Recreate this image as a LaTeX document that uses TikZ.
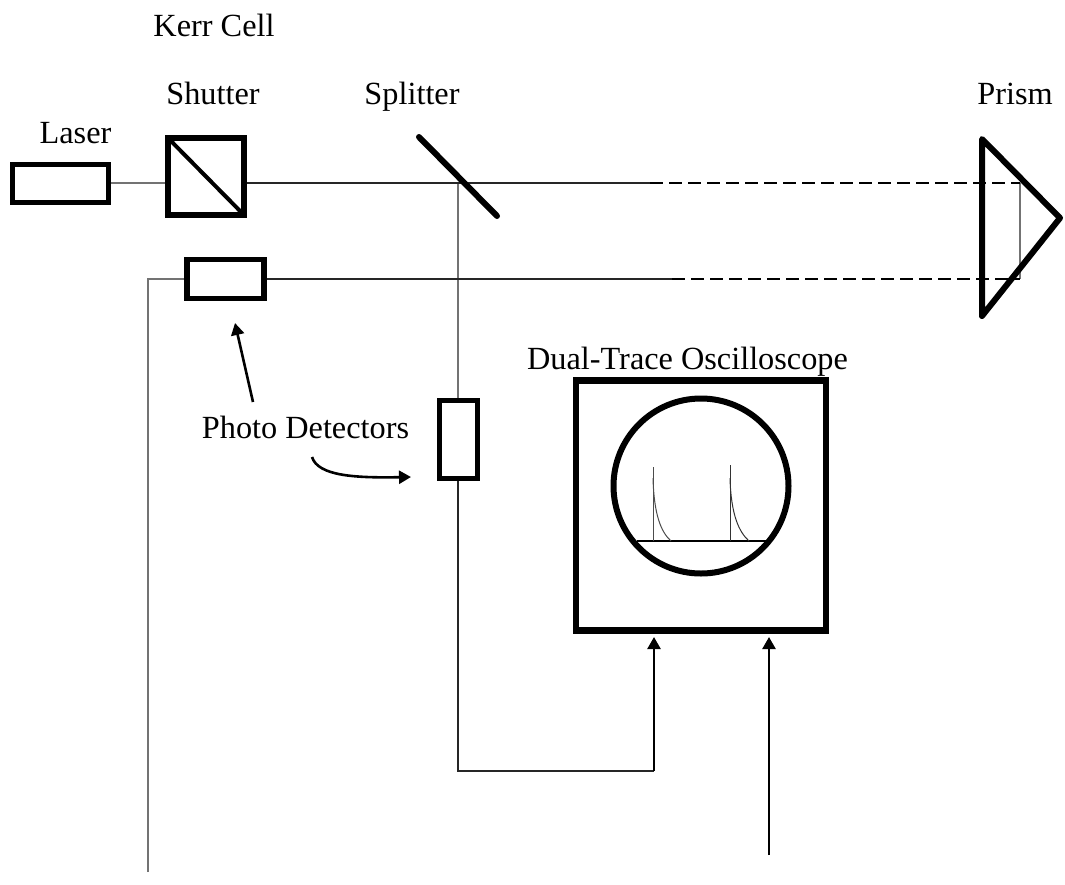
\documentclass[tikz,border=0pt]{standalone}
\usepackage{fontspec}
\setmainfont{Liberation Serif}
\usetikzlibrary{arrows.meta}
\tikzset{
  x=1pt,y=-1pt,
  lbl/.style={font=\fontsize{32.3}{36}\selectfont,inner sep=0pt,anchor=base},
  beam/.style={line width=1.4pt,black!85},
  thin beam/.style={line width=1.1pt,black!55},
  dash beam/.style={line width=2.6pt,black,dash pattern=on 13pt off 6pt},
  optic/.style={line width=6pt,line cap=round,line join=round},
  tip/.style={-{Triangle[length=12pt,width=13pt]}},
  ptr/.style={line width=2.6pt,tip},
  sig/.style={line width=2.4pt,black,tip},
}
\begin{document}
\begin{tikzpicture}
\useasboundingbox (0,0) rectangle (1065,884);
% text
\node[lbl] (kerr) at (214,36) {Kerr Cell};
\node[lbl] (shutterl) at (213,104) {Shutter};
\node[lbl] (splitl) at (412,104) {Splitter};
\node[lbl] (prisml) at (1015,104) {Prism};
\node[lbl] (laserl) at (75.5,143) {Laser};
\node[lbl] (scopel) at (687.5,369) {Dual-Trace Oscilloscope};
\node[lbl] (pd) at (305.5,438) {Photo Detectors};
% free ends and bends
\coordinate (beamA) at (650,183);
\coordinate (beamB) at (672,279);
\coordinate (prA) at (1020,183);
\coordinate (prB) at (1020,279);
\coordinate (splitC) at (458,183);
\coordinate (d1end) at (148,872);
\coordinate (d1bend) at (148,279);
\coordinate (in1b) at (458,771);
\coordinate (in1c) at (654,771);
\coordinate (in2s) at (769,855);
\coordinate (ptrA) at (253,402);
\coordinate (ptrB) at (235,323);
\coordinate (ptrC) at (312,457);
\coordinate (ptrD) at (411,477);
\coordinate (scopeIn1) at (654,637);
\coordinate (scopeIn2) at (769,637);
% beams
\draw[thin beam] (prA) -- (prB);
\draw[thin beam] (splitC) -- (458,400);
\draw[beam] (458,481) -- (in1b) -- (in1c);
\draw[sig] (in1c) -- (scopeIn1);
\draw[sig] (in2s) -- (scopeIn2);
\draw[thin beam] (111,183) -- (167,183);
\draw[beam] (246,183) -- (beamA);
\draw[dash beam] (beamA) -- (prA);
\draw[beam] (266,279) -- (beamB);
\draw[dash beam] (beamB) -- (prB);
\draw[thin beam] (d1end) -- (d1bend) -- (186,279);
% boxes
\node[draw,line width=5.5pt,fill=white,minimum width=96pt,minimum height=38pt,inner sep=0pt] (laser) at (60.5,183.5) {};
\node[draw,line width=6pt,minimum width=76pt,minimum height=77pt,inner sep=0pt,outer sep=0pt] (shutter) at (206,176.5) {};
\draw[line width=4pt] (shutter.north west) -- (shutter.south east);
\node[draw,line width=5.5pt,fill=white,minimum width=77pt,minimum height=39pt,inner sep=0pt] (det1) at (225.5,279) {};
\node[draw,line width=5.5pt,fill=white,minimum width=38pt,minimum height=78pt,inner sep=0pt] (det2) at (458.5,439.5) {};
\node[draw,line width=6.5pt,minimum width=250pt,minimum height=250pt,inner sep=0pt] (scope) at (701,505.5) {};
% splitter
\coordinate (sa) at (419,137);
\coordinate (sb) at (497,216);
\draw[optic] (sa) -- (sb);
% prism
\coordinate (p1) at (982,139);
\coordinate (p2) at (1060,218);
\coordinate (p3) at (982,316);
\draw[optic] (p1) -- (p2) -- (p3) -- cycle;
% screen
\node[draw,circle,line width=6pt,minimum size=175pt,inner sep=0pt] (screen) at (701,486) {};
\coordinate (t1) at (653,467);
\coordinate (t2) at (730,465);
\draw[line width=2pt] (637,541) -- (767,541);
\draw[line width=1pt,black!70] (653,541) -- (t1);
\draw[line width=1pt,black!80] (730,541) -- (t2);
\draw[line width=1pt,black!70] (653,478) .. controls (654,515) and (661,532) .. (671,541);
\draw[line width=1pt,black!80] (730,478) .. controls (731,515) and (739,532) .. (749,541);
% pointers
\draw[ptr] (ptrA) -- (ptrB);
\draw[ptr] (ptrC) .. controls (318,476) and (355,478) .. (ptrD);
\end{tikzpicture}
\end{document}
